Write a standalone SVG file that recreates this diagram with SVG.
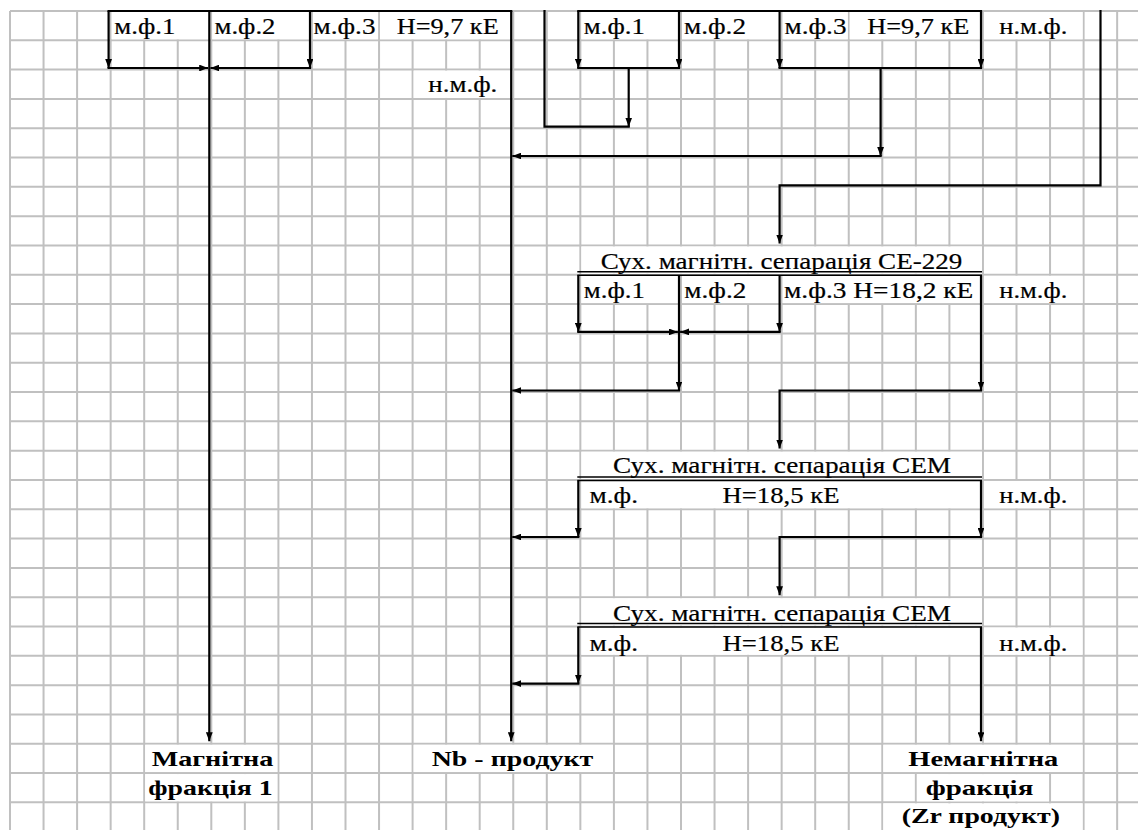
<svg xmlns="http://www.w3.org/2000/svg" width="1138" height="830" viewBox="0 0 1138 830">
<style>
.grid{fill:none;stroke:#c0c0c0;stroke-width:2}
.cell{fill:#fff}
.bd{fill:none;stroke:#000;stroke-width:2.2}
.dbl{fill:none;stroke:#000;stroke-width:1.5}
#connectors path{fill:none;stroke:#000;stroke-width:2.2}
.ar{marker-end:url(#ah)}
.t{font-family:'Liberation Serif','Times New Roman',serif;font-size:23.5px;fill:#000;stroke:#000;stroke-width:0.2}
.b{font-family:'Liberation Serif','Times New Roman',serif;font-size:22px;font-weight:bold;fill:#000}
</style>
<defs>
<marker id="ah" markerUnits="userSpaceOnUse" viewBox="0 0 9 6.8" markerWidth="9" markerHeight="6.8" refX="9" refY="3.4" orient="auto"><path d="M0,0 L9,3.4 L0,6.8 Z" fill="#000"/></marker>
</defs>
<rect width="1138" height="830" fill="#fff"/>
<path class="grid" d="M10 11V830M43.55 11V830M77.1 11V830M110.65 11V830M144.2 11V830M177.75 11V830M211.3 11V830M244.85 11V830M278.4 11V830M311.95 11V830M345.5 11V830M379.05 11V830M412.6 11V830M446.15 11V830M479.7 11V830M513.25 11V830M546.8 11V830M580.35 11V830M613.9 11V830M647.45 11V830M681 11V830M714.55 11V830M748.1 11V830M781.65 11V830M815.2 11V830M848.75 11V830M882.3 11V830M915.85 11V830M949.4 11V830M982.95 11V830M1016.5 11V830M1050.05 11V830M1083.6 11V830M1117.15 11V830
M10 11H1138M10 40.31H1138M10 69.62H1138M10 98.93H1138M10 128.24H1138M10 157.55H1138M10 186.86H1138M10 216.17H1138M10 245.48H1138M10 274.79H1138M10 304.1H1138M10 333.41H1138M10 362.72H1138M10 392.03H1138M10 421.34H1138M10 450.65H1138M10 479.96H1138M10 509.27H1138M10 538.58H1138M10 567.89H1138M10 597.2H1138M10 626.51H1138M10 655.82H1138M10 685.13H1138M10 714.44H1138M10 743.75H1138M10 773.06H1138M10 802.37H1138"/>
<g id="cells">
<rect class="cell" x="111.65" y="12" width="98.65" height="27.31"/>
<rect class="cell" x="212.3" y="12" width="98.65" height="27.31"/>
<rect class="cell" x="312.95" y="12" width="65.1" height="27.31"/>
<rect class="cell" x="380.05" y="12" width="132.2" height="27.31"/>
<rect class="cell" x="581.35" y="12" width="98.65" height="27.31"/>
<rect class="cell" x="682" y="12" width="98.65" height="27.31"/>
<rect class="cell" x="782.65" y="12" width="65.1" height="27.31"/>
<rect class="cell" x="849.75" y="12" width="132.2" height="27.31"/>
<rect class="cell" x="983.95" y="12" width="98.65" height="27.31"/>
<rect class="cell" x="413.6" y="70.62" width="98.65" height="27.31"/>
<rect class="cell" x="581.35" y="246.48" width="400.6" height="27.31"/>
<rect class="cell" x="581.35" y="275.79" width="98.65" height="27.31"/>
<rect class="cell" x="682" y="275.79" width="98.65" height="27.31"/>
<rect class="cell" x="782.65" y="275.79" width="199.3" height="27.31"/>
<rect class="cell" x="983.95" y="275.79" width="98.65" height="27.31"/>
<rect class="cell" x="581.35" y="451.65" width="400.6" height="27.31"/>
<rect class="cell" x="581.35" y="480.96" width="400.6" height="27.31"/>
<rect class="cell" x="983.95" y="480.96" width="98.65" height="27.31"/>
<rect class="cell" x="581.35" y="598.2" width="400.6" height="27.31"/>
<rect class="cell" x="581.35" y="627.51" width="400.6" height="27.31"/>
<rect class="cell" x="983.95" y="627.51" width="98.65" height="27.31"/>
<rect class="cell" x="145.2" y="744.75" width="132.2" height="27.31"/>
<rect class="cell" x="145.2" y="774.06" width="132.2" height="27.31"/>
<rect class="cell" x="413.6" y="744.75" width="199.3" height="27.31"/>
<rect class="cell" x="883.3" y="744.75" width="199.3" height="27.31"/>
<rect class="cell" x="916.85" y="774.06" width="132.2" height="27.31"/>
<rect class="cell" x="883.3" y="803.37" width="199.3" height="26.63"/>
</g>
<g id="sep1">
<path class="bd" d="M107.5 11H512.3"/>
<text class="t" x="114.3" y="33.5" textLength="61" lengthAdjust="spacingAndGlyphs">м.ф.1</text>
<text class="t" x="214.5" y="33.5" textLength="61" lengthAdjust="spacingAndGlyphs">м.ф.2</text>
<text class="t" x="313.5" y="33.5" textLength="62" lengthAdjust="spacingAndGlyphs">м.ф.3</text>
<text class="t" x="396.7" y="33.5" textLength="102" lengthAdjust="spacingAndGlyphs">Н=9,7 кЕ</text>
<text class="t" x="428.3" y="92.3" textLength="69" lengthAdjust="spacingAndGlyphs">н.м.ф.</text>
</g>
<g id="sep2">
<path class="bd" d="M577.2 11H982.1"/>
<text class="t" x="583.8" y="33.5" textLength="61" lengthAdjust="spacingAndGlyphs">м.ф.1</text>
<text class="t" x="684" y="33.5" textLength="62" lengthAdjust="spacingAndGlyphs">м.ф.2</text>
<text class="t" x="784.5" y="33.5" textLength="62" lengthAdjust="spacingAndGlyphs">м.ф.3</text>
<text class="t" x="867.3" y="33.5" textLength="102" lengthAdjust="spacingAndGlyphs">Н=9,7 кЕ</text>
<text class="t" x="999.3" y="33.5" textLength="68" lengthAdjust="spacingAndGlyphs">н.м.ф.</text>
</g>
<g id="sep3">
<text class="t" x="600.7" y="269.2" textLength="361.6" lengthAdjust="spacingAndGlyphs">Сух. магнітн. сепарація СЕ-229</text>
<path class="dbl" d="M577.3 271.8H982M577.3 275.3H982"/>
<text class="t" x="583.8" y="298" textLength="61" lengthAdjust="spacingAndGlyphs">м.ф.1</text>
<text class="t" x="684.3" y="298" textLength="62" lengthAdjust="spacingAndGlyphs">м.ф.2</text>
<text class="t" x="784" y="298" textLength="189.3" lengthAdjust="spacingAndGlyphs">м.ф.3 Н=18,2 кЕ</text>
<text class="t" x="999.3" y="298" textLength="68" lengthAdjust="spacingAndGlyphs">н.м.ф.</text>
</g>
<g id="sep4">
<text class="t" x="613" y="473.3" textLength="338" lengthAdjust="spacingAndGlyphs">Сух. магнітн. сепарація СЕМ</text>
<path class="dbl" d="M577.3 477H982M577.3 480.5H982"/>
<text class="t" x="589.5" y="503.3" textLength="48.5" lengthAdjust="spacingAndGlyphs">м.ф.</text>
<text class="t" x="722.5" y="503.3" textLength="117" lengthAdjust="spacingAndGlyphs">Н=18,5 кЕ</text>
<text class="t" x="999.3" y="503.3" textLength="68" lengthAdjust="spacingAndGlyphs">н.м.ф.</text>
</g>
<g id="sep5">
<text class="t" x="613" y="620.8" textLength="338" lengthAdjust="spacingAndGlyphs">Сух. магнітн. сепарація СЕМ</text>
<path class="dbl" d="M577.3 623.5H982M577.3 627H982"/>
<text class="t" x="589.5" y="650.5" textLength="48.5" lengthAdjust="spacingAndGlyphs">м.ф.</text>
<text class="t" x="722.5" y="650.5" textLength="117" lengthAdjust="spacingAndGlyphs">Н=18,5 кЕ</text>
<text class="t" x="999.3" y="650.5" textLength="68" lengthAdjust="spacingAndGlyphs">н.м.ф.</text>
</g>
<g id="out-mag1">
<text class="b" x="151.7" y="765.5" textLength="121.6" lengthAdjust="spacingAndGlyphs">Магнітна</text>
<text class="b" x="148.3" y="794.5" textLength="124.4" lengthAdjust="spacingAndGlyphs">фракція 1</text>
</g>
<g id="out-nb">
<text class="b" x="431.7" y="765.5" textLength="161.6" lengthAdjust="spacingAndGlyphs">Nb - продукт</text>
</g>
<g id="out-zr">
<text class="b" x="908.3" y="765.5" textLength="150" lengthAdjust="spacingAndGlyphs">Немагнітна</text>
<text class="b" x="925.7" y="794.5" textLength="107.6" lengthAdjust="spacingAndGlyphs">фракція</text>
<text class="b" x="901.7" y="823" textLength="158.3" lengthAdjust="spacingAndGlyphs">(Zr продукт)</text>
</g>
<g id="connectors">
<path class="ar" d="M108.6 11V68"/>
<path class="ar" d="M107.5 68H208.2"/>
<path class="ar" d="M310 11V68"/>
<path class="ar" d="M311.1 68H210.4"/>
<path class="ar" d="M209.3 11V741.2"/>
<path class="ar" d="M511.2 11V741.2"/>
<path d="M544.5 10V126.7H629.8"/>
<path class="ar" d="M628.7 68V126.7"/>
<path class="ar" d="M578.3 11V68"/>
<path class="ar" d="M679 11V68"/>
<path d="M577.2 68H680.1"/>
<path class="ar" d="M779.6 11V68"/>
<path class="ar" d="M981 11V68"/>
<path d="M778.5 68H982.1"/>
<path class="ar" d="M880.6 68V156"/>
<path class="ar" d="M881.7 156H512.3"/>
<path class="ar" d="M1100.5 10V185.3H779.6V243.5"/>
<path class="ar" d="M578.3 275.3V331.9"/>
<path class="ar" d="M779.6 275.3V331.9"/>
<path class="ar" d="M577.2 331.9H677.9"/>
<path class="ar" d="M780.7 331.9H680.1"/>
<path class="ar" d="M679 275.3V390.5"/>
<path class="ar" d="M680.1 390.5H512.3"/>
<path class="ar" d="M981 275.3V390.5"/>
<path class="ar" d="M982.1 390.5H779.6V448.6"/>
<path class="ar" d="M578.3 480.5V537"/>
<path class="ar" d="M579.4 537H512.3"/>
<path class="ar" d="M981 480.5V537"/>
<path class="ar" d="M982.1 537H779.6V595.2"/>
<path class="ar" d="M578.3 627V683.6"/>
<path class="ar" d="M579.4 683.6H512.3"/>
<path class="ar" d="M981 627V741.2"/>
</g>
</svg>
